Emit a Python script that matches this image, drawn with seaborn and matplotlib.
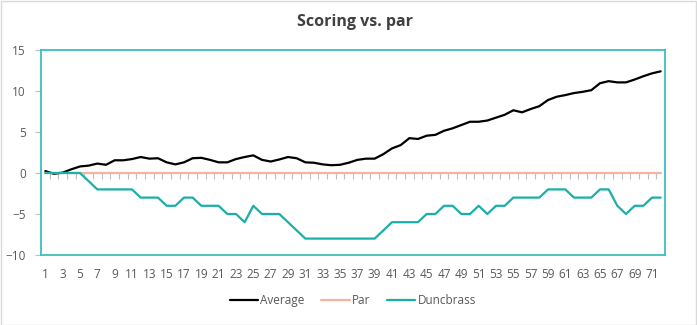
import matplotlib
matplotlib.use("Agg")
import matplotlib.pyplot as plt
from matplotlib.patches import Rectangle
import numpy as np
import pandas as pd
import seaborn as sns

# Cumulative score relative to par, round by round
rounds = list(range(1, 73))

average = [
    0.24, -0.1, 0.05, 0.45, 0.8, 0.9, 1.15, 1.0, 1.55, 1.55,
    1.7, 1.95, 1.75, 1.8, 1.3, 1.05, 1.3, 1.8, 1.85, 1.6,
    1.3, 1.3, 1.7, 1.95, 2.15, 1.6, 1.4, 1.65, 1.95, 1.8,
    1.3, 1.25, 1.05, 0.95, 1.0, 1.25, 1.6, 1.75, 1.75, 2.3,
    3.0, 3.4, 4.25, 4.15, 4.55, 4.65, 5.15, 5.45, 5.85, 6.25,
    6.25, 6.4, 6.75, 7.1, 7.65, 7.4, 7.8, 8.15, 8.9, 9.3,
    9.5, 9.75, 9.9, 10.1, 10.95, 11.2, 11.05, 11.05, 11.4, 11.8,
    12.15, 12.4,
]

par = [0] * 72

duncbrass = [
    0, 0, 0, 0, 0, -1, -2, -2, -2, -2,
    -2, -3, -3, -3, -4, -4, -3, -3, -4, -4,
    -4, -5, -5, -6, -4, -5, -5, -5, -6, -7,
    -8, -8, -8, -8, -8, -8, -8, -8, -8, -7,
    -6, -6, -6, -6, -5, -5, -4, -4, -5, -5,
    -4, -5, -4, -4, -3, -3, -3, -3, -2, -2,
    -2, -3, -3, -3, -2, -2, -4, -5, -4, -4,
    -3, -3,
]

series_names = ["Average", "Par", "Duncbrass"]
series_colors = ["#000000", "#F7B3A2", "#1AAFA9"]

df = pd.concat([
    pd.DataFrame({"Round": rounds, "Score": vals, "Series": name})
    for name, vals in zip(series_names, [average, par, duncbrass])
], ignore_index=True)

sns.set_theme(style="white")
plt.rcParams["font.family"] = ["Open Sans", "DejaVu Sans"]

fig = plt.figure(figsize=(6.97, 3.25), dpi=100)
ax = fig.add_axes([41 / 697, 1 - 255 / 325, 624 / 697, 205 / 325])

sns.lineplot(
    data=df, x="Round", y="Score", hue="Series",
    hue_order=series_names, palette=series_colors,
    linewidth=1.6, ax=ax, legend=True,
)

ax.set_xlim(0.5, 72.5)
ax.set_ylim(-10, 15)
ax.set_yticks(range(-10, 16, 5))
ax.set_xticks(rounds[::2])
ax.set_xlabel("")
ax.set_ylabel("")

label_color = "#595959"
ax.tick_params(axis="x", length=0, pad=9, labelsize=8.5, labelcolor=label_color)
ax.tick_params(axis="y", length=4, width=0.8, color="#BFBFBF", pad=7,
               labelsize=8.5, labelcolor=label_color, left=True)

frame_color = "#3CBFBF"
for side in ax.spines.values():
    side.set_visible(True)
    side.set_color(frame_color)
    side.set_linewidth(1.3)

# Category axis crossing at zero, with tick marks between rounds
zero_frac = (0 - (-10)) / 25
sec = ax.secondary_xaxis(zero_frac)
sec.set_xticks(np.arange(1.5, 72.5, 1.0))
sec.tick_params(axis="x", direction="out", length=4, width=0.8,
                color="#BFBFBF", labelbottom=False, labeltop=False,
                bottom=True, top=False)
for side in sec.spines.values():
    side.set_visible(False)

leg = ax.legend(
    loc="upper center", bbox_to_anchor=(0.5, -0.14), ncol=3, frameon=False,
    fontsize=8.5, handlelength=2.4, handletextpad=0.2, columnspacing=1.4,
)
for txt in leg.get_texts():
    txt.set_color(label_color)

fig.text(0.51, 1 - 22 / 325, "Scoring vs. par", ha="center", va="center",
         fontsize=11.5, fontweight="bold", color="#404040")

fig.patches.append(Rectangle((0.5 / 697, 0.5 / 325), 1 - 1.5 / 697, 1 - 1.5 / 325,
                             transform=fig.transFigure, fill=False,
                             edgecolor="#D9D9D9", linewidth=1))

fig.savefig("out.png", dpi=100, facecolor="white")
